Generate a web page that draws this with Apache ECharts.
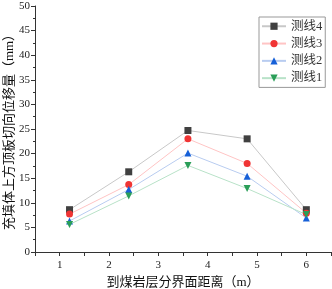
<!DOCTYPE html>
<html lang="en">
<head>
  <meta charset="UTF-8">
  <title>位移量</title>
  <script src="https://cdn.jsdelivr.net/npm/echarts@6/dist/echarts.min.js"></script>
  <style>
    html,body{margin:0;padding:0;background:#fff;}
    #main{width:332px;height:289px;}
  </style>
</head>
<body>
  <div id="main"></div>
  <script>
    // 数据
    var xData = [1.2, 2.4, 3.6, 4.8, 6];
    var line4 = [8.6, 16.3, 24.7, 23.0, 8.6];
    var line3 = [7.7, 13.7, 23.0, 18.0, 7.9];
    var line2 = [6.3, 12.7, 20.1, 15.4, 6.9];
    var line1 = [5.6, 11.4, 17.6, 12.9, 7.6];
    var names = ['测线4', '测线3', '测线2', '测线1'];

    function pairs(ys){
      var arr = [];
      for(var i = 0; i < xData.length; i++){
        arr.push([xData[i], ys[i]]);
      }
      return arr;
    }
    function mk(name, ys, sym, color, lineColor, rot){
      return {
        name: name,
        type: 'line',
        data: pairs(ys),
        symbol: sym,
        symbolSize: 7,
        symbolRotate: rot || 0,
        itemStyle: {color: color},
        lineStyle: {color: lineColor, width: 1},
        emphasis: {disabled: true}
      };
    }
    var serif = '"Liberation Serif", "Noto Sans CJK SC", serif';
    var myChart = echarts.init(document.getElementById('main'));
    var option = {
      animation: false,
      grid: {left: 35, top: 6, right: 1, bottom: 37, outerBoundsMode: 'none', containLabel: false},
      legend: {
        orient: 'vertical',
        left: 259,
        top: 17,
        padding: [3, 3, 3, 2],
        itemWidth: 24,
        itemHeight: 9,
        itemGap: 4.8,
        borderColor: '#999',
        borderWidth: 1,
        backgroundColor: '#fff',
        textStyle: {fontSize: 12.5, color: '#333', fontFamily: serif, padding: [0, 0, 0, 0]},
        data: names
      },
      xAxis: {
        type: 'value',
        min: 0.5,
        max: 6.5,
        interval: 0.5,
        name: '到煤岩层分界面距离（m）',
        nameLocation: 'middle',
        nameGap: 24,
        nameMoveOverlap: false,
        nameTextStyle: {fontSize: 13, color: '#111', fontFamily: serif},
        axisLine: {show: true, lineStyle: {color: '#333', width: 1}},
        axisTick: {show: true, inside: false, length: 4, lineStyle: {color: '#333'}},
        axisLabel: {
          fontSize: 11, color: '#222', fontFamily: serif, margin: 8,
          formatter: function(v){ return (v % 1 === 0) ? String(v) : ''; }
        },
        splitLine: {show: false}
      },
      yAxis: {
        type: 'value',
        min: 0,
        max: 50,
        interval: 5,
        name: '充填体上方顶板切向位移量（mm）',
        nameLocation: 'middle',
        nameGap: 19,
        nameMoveOverlap: false,
        nameRotate: 90,
        nameTextStyle: {fontSize: 13, color: '#111', fontFamily: serif},
        axisLine: {show: true, lineStyle: {color: '#333', width: 1}},
        axisTick: {show: true, length: 4, lineStyle: {color: '#333'}},
        minorTick: {show: true, splitNumber: 2, length: 2, lineStyle: {color: '#333'}},
        axisLabel: {fontSize: 11, color: '#222', fontFamily: serif, margin: 5},
        splitLine: {show: false}
      },
      series: [
        mk(names[0], line4, 'rect', '#404040', '#c8c8c8'),
        mk(names[1], line3, 'circle', '#f03434', '#ffc4c4'),
        mk(names[2], line2, 'triangle', '#1660d8', '#b8ccf0'),
        mk(names[3], line1, 'triangle', '#2a9e58', '#b8e2c8', 180)
      ]
    };
    myChart.setOption(option);
  </script>
</body>
</html>
